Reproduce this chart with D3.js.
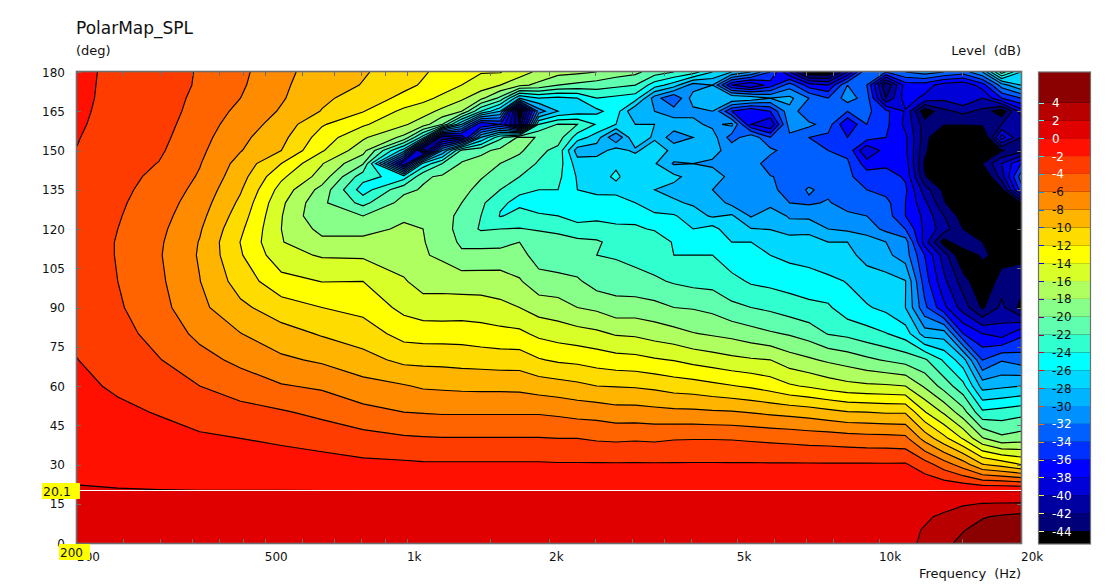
<!DOCTYPE html>
<html><head><meta charset="utf-8">
<script src="https://cdn.jsdelivr.net/npm/d3@7"></script>
<style>html,body{margin:0;background:#fff}svg{display:block}text{font-family:"DejaVu Sans",sans-serif;font-size:12px;fill:#111}</style>
</head><body><svg id="c" width="1108" height="587"></svg>
<script>
const freqs=[200,244,298,364,444,542,661,807,985,1082,1189,1306,1435,1576,1732,1903,2090,2297,2524,2773,3046,3347,3677,4040,4439,4877,5358,5887,6468,7106,7807,8578,9425,10350,11380,12500,13730,15080,16570,18200,20000];
const angles=[0,5,10,15,20,30,40,50,60,70,80,90,100,110,115,120,125,130,135,140,145,150,155,160,165,170,175,180];
const a0=[1.2,1.2,1.2,1.2,1.2,1.2,1.2,1.2,1.2,1.2,1.2,1.2,1.2,1.2,1.2,1.2,1.2,1.2,1.2,1.2,1.2,1.2,1.2,1.2,1.2,1.2,1.2,1.2,1.2,1.2,1.2,1.3,1.4,1.5,1.7,2.2,3.5,4.5,5.2,5.7,6];
const a5=[1.1,1.1,1.1,1.1,1.1,1.1,1.1,1.1,1.1,1.1,1.1,1.1,1.1,1.1,1.1,1.1,1.1,1.1,1.1,1.1,1.1,1.1,1.1,1.1,1.1,1.1,1.1,1.1,1.1,1.1,1.1,1.2,1.3,1.4,1.6,2.1,3,3.9,4.7,5.2,5.4];
const a10=[.9,.9,.9,.9,.9,.9,.9,.9,.9,.9,.9,.9,.9,.9,.9,.9,.9,.9,.9,.9,.9,.9,.9,.9,.9,.9,.9,.9,.9,.9,1,1,1.1,1.2,1.4,1.8,2.25,3,3.85,4.3,4.6];
const a15=[.5,.5,.5,.5,.5,.5,.5,.5,.5,.5,.5,.5,.5,.5,.5,.5,.5,.5,.5,.5,.5,.5,.5,.5,.5,.5,.5,.5,.5,.5,.6,.7,.8,.9,1,1.2,1.5,1.8,2.05,2.12,2.15];
const a20=[.1,.06,.03,.01,.01,.01,.01,.01,.01,.01,.01,.01,.01,.01,.01,.01,.01,.01,.01,.01,.01,.01,.01,.01,.01,.01,.01,.01,.01,.01,.01,.01,.01,.01,.01,.02,.02,.02,.02,.02,.02];
const a30=[-.35,-.55,-.7,-.84,-1.02,-1.15,-1.29,-1.56,-1.66,-1.77,-1.77,-1.77,-1.77,-1.77,-1.77,-1.77,-1.83,-1.83,-1.83,-1.83,-1.83,-1.83,-1.83,-1.83,-1.83,-1.83,-1.83,-1.83,-1.83,-1.83,-1.83,-1.83,-1.83,-1.83,-1.8,-3.1,-5,-7,-9.9,-10.8,-12];
const a40=[-.8,-1.1,-1.4,-1.7,-2,-2.32,-2.75,-3.3,-3.75,-3.85,-3.92,-3.92,-3.92,-3.92,-3.92,-3.92,-4,-4,-4.25,-4.35,-4.25,-4.35,-4.15,-4.1,-4.1,-4.15,-4.3,-4.45,-4.6,-4.8,-4.9,-5.1,-5.25,-5.3,-5.5,-8.75,-11.4,-14.2,-17.8,-19.5,-19];
const a50=[-1.2,-1.65,-2.1,-2.9,-3.35,-3.8,-4.5,-5.4,-6,-6.1,-6.2,-6.2,-6.2,-6.2,-6.2,-6.2,-6.4,-6.7,-6.8,-7.2,-7.2,-7.4,-7.55,-7.6,-7.75,-7.85,-8.1,-8.4,-8.65,-8.95,-9.4,-9.9,-10,-10.2,-10.2,-13.85,-16.3,-19.2,-23.6,-23.2,-22.7];
const a60=[-1.6,-2.25,-3.1,-4,-4.9,-5.85,-6.3,-7.3,-7.85,-8.25,-8.35,-8.45,-8.5,-8.5,-8.55,-8.95,-9.2,-9.55,-10,-10.1,-10.2,-10.45,-10.9,-11.1,-11.5,-11.9,-12.3,-12.9,-13.75,-14.25,-14.9,-15.4,-15.65,-15.75,-16,-18.3,-20.8,-23.4,-28.8,-28.4,-28];
const a70=[-1.97,-2.8,-3.9,-5.3,-6.5,-7.65,-8.3,-9.3,-10.5,-10.55,-10.6,-10.75,-10.85,-11,-11,-11.85,-12.3,-12.5,-12.9,-13.25,-13.4,-13.8,-14.1,-14.65,-15.05,-15.5,-15.8,-16,-17.1,-17.7,-18.35,-18.9,-19.6,-20.2,-20.8,-21.7,-24.3,-27.2,-34.1,-32.2,-33];
const a80=[-2.3,-3.3,-4.7,-6.5,-7.95,-9.2,-10.2,-11,-12.7,-12.9,-12.9,-12.9,-13.2,-13.4,-13.55,-14.45,-14.9,-15.25,-15.6,-16.2,-16.35,-16.85,-17.3,-17.9,-18.25,-18.6,-19.2,-19.75,-20.2,-20.9,-22.1,-22.5,-23.2,-23.9,-25,-29,-29,-36,-38,-39,-36.5];
const a90=[-2.6,-3.75,-5.3,-7.5,-9.55,-11.1,-12,-12.6,-14.55,-15.1,-15.2,-15.1,-15.1,-15.5,-16,-16.9,-17.2,-18,-18.4,-19.2,-19.1,-19.4,-20,-20.15,-20.55,-21.55,-22,-22.4,-23,-23.5,-23.7,-25.2,-25.8,-26.5,-28,-33.5,-37.5,-41,-44.3,-41.5,-44.6];
const a100=[-2.8,-4,-5.6,-7.95,-10.9,-13.3,-14.05,-14,-15.8,-16.8,-16.7,-16.9,-17,-17.1,-17.8,-19.2,-19.3,-19.7,-20.9,-21,-21.3,-21.7,-22.2,-22.6,-22.7,-23.4,-24.25,-24.55,-24.85,-25.1,-25.55,-26.1,-27.1,-27.2,-27.9,-35,-39.5,-43,-46,-43,-43];
const a110=[-2.9,-4.1,-5.8,-8.2,-11.8,-15.3,-16.2,-16.3,-17,-17.8,-18.4,-19.6,-19.4,-19.2,-19.3,-20.9,-21.4,-21.5,-22,-22.2,-22.6,-23,-24,-24,-24,-25.2,-25.7,-26,-26.5,-26.8,-27.3,-27.5,-28.6,-29.5,-31,-36,-41,-46,-43.5,-45,-44.5];
const a115=[-2.9,-4.1,-5.7,-8.1,-12.05,-15.9,-17.5,-17.5,-17.5,-17.9,-18.8,-20.4,-20.6,-20.7,-20,-20.8,-21,-21.6,-21.8,-22.5,-22.3,-22.7,-24.2,-24.5,-25.8,-26,-26,-26.2,-27,-26.9,-28,-28,-28.9,-30,-31,-39,-45,-42,-44,-45.5,-44];
const a120=[-2.9,-4,-5.5,-7.8,-11.6,-16,-18.6,-18.6,-17.7,-18,-19,-20.9,-22.2,-22,-21.9,-22.2,-22.6,-23,-23,-23.5,-23.7,-24.2,-24.3,-26,-25.2,-27.5,-27.9,-28.1,-28.9,-28.8,-30,-30.4,-31,-32.5,-34,-38.5,-41,-44,-46,-47,-46];
const a125=[-2.8,-3.85,-5.25,-7.4,-11,-15.9,-19.8,-20,-18.3,-18.5,-19,-20.7,-22,-24.1,-23.5,-23.9,-24,-25,-24.6,-24.8,-24.6,-25.5,-25.8,-27,-28.3,-27.7,-30.2,-28.5,-30.3,-30.4,-31,-31.5,-32,-33,-36,-38.5,-42,-45,-47,-47,-46];
const a130=[-2.7,-3.7,-5,-7,-10.4,-15.6,-19.6,-22.6,-19.2,-19.2,-18.9,-20,-21.5,-23.8,-24.3,-24.4,-24.5,-25.6,-25.5,-25.4,-26,-27.5,-27.7,-28.3,-28.8,-30.6,-30.4,-30.8,-32,-32.3,-31.8,-33,-33.3,-33.4,-36,-39.5,-43.8,-46,-47,-46,-44];
const a135=[-2.6,-3.55,-4.7,-6.6,-9.8,-14.8,-18.7,-25,-20.5,-19.8,-19.2,-19.2,-20.8,-22,-23.8,-24,-24,-26,-26.3,-26.4,-27.8,-28,-28.6,-29,-30,-30.5,-31,-31.4,-33,-31.8,-32.5,-33.5,-34,-34.7,-35.6,-41,-44.5,-47,-47,-44.5,-35];
const a140=[-2.45,-3.4,-4.4,-6.2,-9.2,-13.6,-16.8,-23.2,-25,-20.3,-19.7,-19,-19.8,-21,-22,-23,-23.5,-26.2,-26.5,-25.8,-26.7,-26.8,-27.5,-28.8,-29.5,-30.3,-31.5,-31.9,-32.5,-32.8,-32.8,-33.6,-35,-35,-36.3,-43.8,-46,-47,-46.5,-41,-33];
const a145=[-2.3,-3.3,-4.05,-5.9,-8.7,-12,-15.9,-19.8,-40,-25.5,-22,-19.8,-19.2,-20,-21,-22.2,-23,-27,-26.5,-26.2,-26.2,-27.8,-30.2,-30,-30.2,-31,-31,-33,-32,-33.5,-33.8,-33.7,-37,-36.5,-37,-44.3,-47,-47,-44,-40,-36];
const a150=[-2.05,-3.15,-3.7,-5.6,-7.9,-10,-13.8,-17.2,-27,-44,-30,-21.5,-20.5,-19.5,-19.6,-21.5,-22.6,-29,-29.2,-27,-28.5,-26.3,-28.8,-29.5,-29.6,-30.5,-30.8,-31.5,-33,-34,-34,-34.5,-40,-37,-37.5,-43.5,-47,-47,-47,-44.2,-43];
const a155=[-1.9,-3.05,-3.45,-5.3,-7.5,-9.4,-12.9,-15.7,-18.5,-25,-42,-40,-28,-22.5,-19.6,-20.1,-21,-25,-27,-32,-26,-28.5,-31,-30,-29,-33,-30.5,-34,-32.5,-34,-34.5,-36,-35,-36,-37.6,-43,-47,-47,-47,-37,-42];
const a160=[-1.7,-2.95,-3.25,-5,-7,-8.8,-11.8,-13.7,-15.7,-17,-20,-28,-38,-36,-44,-24,-21.9,-22,-24.2,-26,-28,-28,-29,-29.5,-30.5,-29.5,-38,-40,-31,-31.5,-33,-38,-34,-35.5,-38.5,-43,-43.8,-43.8,-43.6,-42,-42];
const a165=[-1.55,-2.85,-3.1,-4.7,-6.5,-8.2,-10.1,-11.9,-14.5,-15.2,-16.5,-18,-24,-28,-46,-31,-28,-27,-26.5,-25,-30,-30,-31,-30.5,-30,-36,-38,-36,-30.5,-34,-33,-34,-33.5,-35.5,-38.2,-45.5,-42.5,-41.5,-42.5,-45.5,-39];
const a170=[-1.4,-2.8,-3,-4.5,-6,-7.8,-9.6,-10.9,-12.5,-13.4,-14.5,-15.6,-17.5,-20.5,-28,-26,-26.5,-26,-24,-24.5,-25,-31,-34,-29,-29,-28,-28.5,-30,-29.5,-32,-34,-31,-33,-42,-37,-38.5,-39.5,-38,-40,-36,-34];
const a175=[-1.35,-2.75,-2.95,-4.25,-5.7,-7.7,-9,-10.1,-11.5,-12.2,-12.9,-14,-14.8,-16,-17.5,-18.5,-20,-20.5,-21,-21.5,-22,-25,-27,-31,-30,-38,-40,-37,-33,-37,-38,-32,-34,-44,-37,-37,-39,-39.5,-37,-31,-28];
const a180=[-1.3,-2.7,-2.9,-4.2,-5.5,-7.6,-8.7,-9.8,-11,-11.8,-12.5,-13.3,-13.9,-13.9,-15,-16.5,-17.3,-17.6,-18,-19,-19.5,-21,-22,-23,-26,-28,-30,-34,-40,-46,-46,-40,-32,-34,-32,-31,-32,-33,-30,-21,-26];
const grid=[a0,a5,a10,a15,a20,a30,a40,a50,a60,a70,a80,a90,a100,a110,a115,a120,a125,a130,a135,a140,a145,a150,a155,a160,a165,a170,a175,a180];
const levels=[-44,-42,-40,-38,-36,-34,-32,-30,-28,-26,-24,-22,-20,-18,-16,-14,-12,-10,-8,-6,-4,-2,0,2,4];
const bandColors=["#000078","#0000a0","#0000d8","#0000ff","#0030ff","#0060ff","#0090ff","#00b4ff","#00d8ff","#00ffff","#30ffd0","#60ffb0","#88ff88","#b0ff60","#d8ff28","#ffff00","#ffdc00","#ffb400","#ff8c00","#ff6400","#ff3c00","#ff1000","#e00000","#b80000","#8b0000"];
const belowColor="#000000";
const xTicks=[250,300,350,400,450,500,600,700,800,900,1000,1500,2000,2500,3000,3500,4000,5000,6000,7000,8000,10000,15000];
const xLabels=[[200,"200"],[500,"500"],[1000,"1k"],[2000,"2k"],[5000,"5k"],[10000,"10k"],[20000,"20k"]];
const yTicks=[0,15,30,45,60,75,90,105,120,135,150,165,180];
const cursorAngle=20.1, cursorLabel="20.1", cursorFreqLabel="200";

const L=77,R=1021,T=72,B=543;
const x=d3.scaleLog().domain([200,20000]).range([L,R]);
const y=d3.scaleLinear().domain([0,180]).range([B,T]);
const svg=d3.select("#c");
const nx=freqs.length, ny=angles.length;
const values=grid.flat();
const cont=d3.contours().size([nx,ny]).thresholds(levels)(values);
function px(c){const t=Math.max(0,Math.min(nx-1,c-.5));const i=Math.min(nx-2,Math.floor(t));const a=x(freqs[i]),b=x(freqs[i+1]);return a+(b-a)*(t-i);}
function py(c){const t=Math.max(0,Math.min(ny-1,c-.5));const i=Math.min(ny-2,Math.floor(t));const a=y(angles[i]),b=y(angles[i+1]);return a+(b-a)*(t-i);}
const defs=svg.append("defs");
defs.append("clipPath").attr("id","pl").append("rect").attr("x",L).attr("y",T).attr("width",R-L).attr("height",B-T);
const plot=svg.append("g").attr("clip-path","url(#pl)");
plot.append("rect").attr("x",L).attr("y",T).attr("width",R-L).attr("height",B-T).attr("fill",belowColor);
function fillPath(c){const p=d3.path();c.coordinates.forEach(poly=>poly.forEach(r=>{r.forEach((q,i)=>{const X=px(q[0]),Y=py(q[1]);i?p.lineTo(X,Y):p.moveTo(X,Y);});p.closePath();}));return p.toString();}
function linePath(c){const p=d3.path();const onEdge=(q,k,n)=>q[k]<=.5||q[k]>=n-.5;
 c.coordinates.forEach(poly=>poly.forEach(r=>{let pen=false;for(let i=0;i<r.length-1;i++){const a=r[i],b=r[i+1];
  const skip=(onEdge(a,0,nx)&&onEdge(b,0,nx))||(onEdge(a,1,ny)&&onEdge(b,1,ny));
  if(skip){pen=false;continue;}
  if(!pen){p.moveTo(px(a[0]),py(a[1]));pen=true;}
  p.lineTo(px(b[0]),py(b[1]));}}));return p.toString();}
plot.selectAll("path.f").data(cont).join("path").attr("class","f").attr("d",fillPath).attr("fill",(d,i)=>bandColors[i]).attr("stroke",(d,i)=>bandColors[i]).attr("stroke-width",.3);
plot.selectAll("path.l").data(cont).join("path").attr("class","l").attr("d",linePath).attr("fill","none").attr("stroke","#000").attr("stroke-width",1.15);

const grey="#6e6e6e";
svg.append("rect").attr("x",L-.5).attr("y",T-.5).attr("width",R-L+1).attr("height",B-T+1).attr("fill","none").attr("stroke",grey).attr("stroke-width",1.6);
const tk=svg.append("g").attr("stroke",grey).attr("stroke-width",1);
xTicks.forEach(f=>{const X=Math.round(x(f))+.5;tk.append("line").attr("x1",X).attr("x2",X).attr("y1",T).attr("y2",T+4);tk.append("line").attr("x1",X).attr("x2",X).attr("y1",B-4).attr("y2",B);});
yTicks.forEach(a=>{const Y=Math.round(y(a))+.5;tk.append("line").attr("x1",L).attr("x2",L+4).attr("y1",Y).attr("y2",Y);tk.append("line").attr("x1",R-4).attr("x2",R).attr("y1",Y).attr("y2",Y);});

yTicks.forEach(a=>svg.append("text").attr("x",65).attr("y",y(a)+4.5).attr("text-anchor","end").text(a));
xLabels.forEach(([f,t])=>svg.append("text").attr("x",x(f)).attr("y",561).text(t));

svg.append("text").attr("x",76).attr("y",34).style("font-size","17px").text("PolarMap_SPL");
svg.append("text").attr("x",76).attr("y",55).style("font-size","13px").text("(deg)");
svg.append("text").attr("x",1021).attr("y",55).attr("text-anchor","end").style("font-size","13px").style("word-spacing","4px").text("Level (dB)");
svg.append("text").attr("x",1021).attr("y",578).attr("text-anchor","end").style("font-size","13px").style("word-spacing","4px").text("Frequency (Hz)");

// cursor
const cy=Math.round(y(cursorAngle))+.5;
svg.append("line").attr("x1",L).attr("x2",R).attr("y1",cy).attr("y2",cy).attr("stroke","#fff").attr("stroke-width",1);
svg.append("rect").attr("x",42).attr("y",483).attr("width",38).attr("height",16).attr("fill","#ffff00");
svg.append("text").attr("x",43).attr("y",495.5).style("font-size","12.5px").text(cursorLabel);
svg.append("rect").attr("x",59).attr("y",544).attr("width",31).attr("height",16).attr("fill","#ffff00");
svg.append("text").attr("x",60).attr("y",557).text(cursorFreqLabel);

// legend
const lg=svg.append("g");
const lX=1039,lW=51;
const lY=d3.scaleLinear().domain([4,-44]).range([102.5,531]);
lg.append("rect").attr("x",lX).attr("y",72).attr("width",lW).attr("height",472).attr("fill",belowColor);
levels.forEach((t,i)=>{const top=i===levels.length-1?72:lY(t+2);lg.append("rect").attr("x",lX).attr("y",top).attr("width",lW).attr("height",lY(t)-top).attr("fill",bandColors[i]);});
lg.append("rect").attr("x",lX-.5).attr("y",72).attr("width",lW+1).attr("height",472).attr("fill","none").attr("stroke",grey).attr("stroke-width",1.2);
levels.forEach((t,i)=>{const c=d3.rgb(bandColors[i]);const ic=d3.rgb(255-c.r,255-c.g,255-c.b);const Y=Math.round(lY(t))+.5;
 lg.append("line").attr("x1",lX).attr("x2",lX+5).attr("y1",Y).attr("y2",Y).attr("stroke",ic.formatHex());
 const dark=(t>=-4||t<=-32);
 lg.append("text").attr("x",1052).attr("y",lY(t)+4.5).style("fill",dark?"#fff":"#111").text(t);});
</script></body></html>
